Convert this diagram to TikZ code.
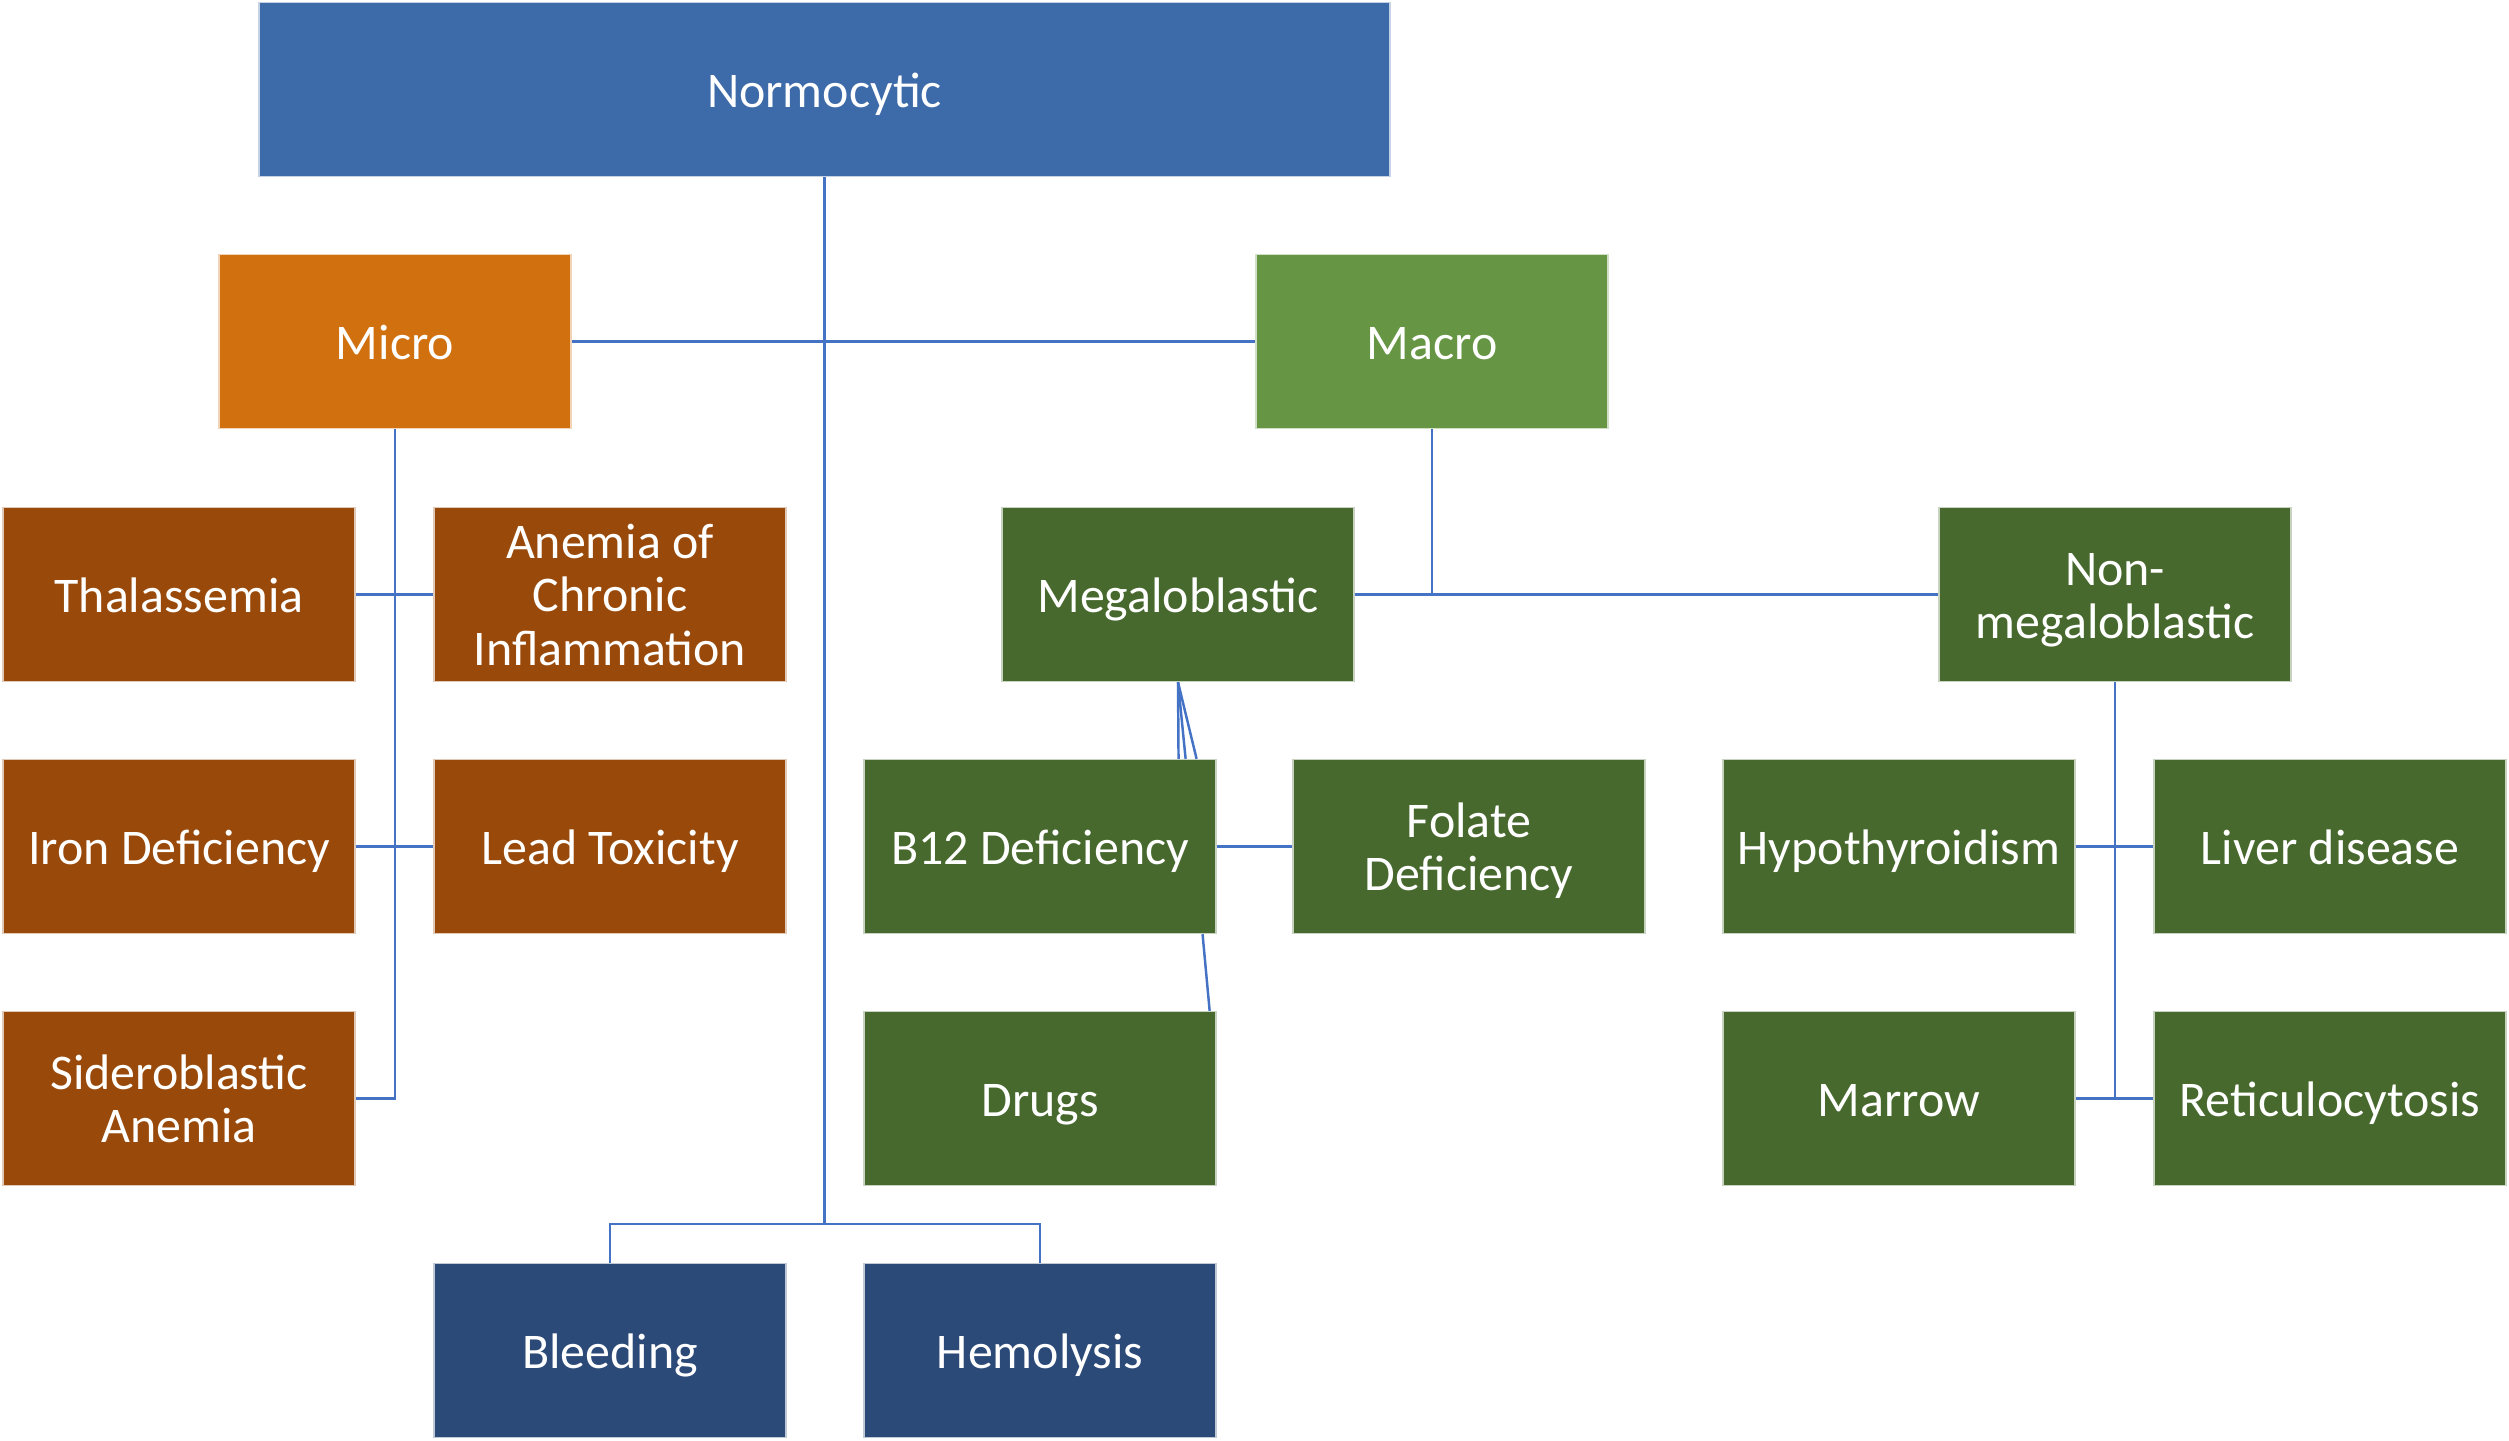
\documentclass[tikz,border=0pt]{standalone}
\usepackage{fontspec}
\setmainfont{Carlito}
\usetikzlibrary{positioning,calc}
\definecolor{normoblue}{HTML}{3D6AA8}
\definecolor{microorange}{HTML}{D1700F}
\definecolor{macrogreen}{HTML}{669544}
\definecolor{microbrown}{HTML}{994A0B}
\definecolor{macrodark}{HTML}{48692E}
\definecolor{lossblue}{HTML}{2C4A77}
\definecolor{linkblue}{HTML}{4472C4}

\begin{document}
\begin{tikzpicture}[
  box/.style={rectangle, fill=#1, draw=white!70!#1, line width=0.4pt, text=white, minimum width=3.52cm, minimum height=1.74cm,
    inner sep=0pt, align=center, font=\fontsize{14.2}{15.2}\selectfont, text height=13.5pt, text depth=3.5pt},
  twoline/.style={text height=28.6pt},
  threeline/.style={text height=43.8pt},
  link/.style={draw=linkblue, line width=0.7pt}
]
  \useasboundingbox (0,0) rectangle (25.09,-14.40);

  \node[box=normoblue, minimum width=11.31cm] (normo) at (8.245,-0.895) {Normocytic};
  \node[box=microorange] (micro) at (3.95,-3.415) {Micro};
  \node[box=macrogreen] (macro) at (14.32,-3.415) {Macro};

  \node[box=microbrown] (thal) at (1.79,-5.945) {Thalassemia};
  \node[box=microbrown, threeline] (chronic) at (6.10,-5.945) {Anemia of\\Chronic\\Inflammation};
  \node[box=microbrown] (iron) at (1.79,-8.465) {Iron Deficiency};
  \node[box=microbrown] (lead) at (6.10,-8.465) {Lead Toxicity};
  \node[box=microbrown, twoline] (sidero) at (1.79,-10.985) {Sideroblastic\\Anemia};

  \node[box=macrodark] (mega) at (11.78,-5.945) {Megaloblastic};
  \node[box=macrodark, twoline] (nonmega) at (21.15,-5.945) {Non-\\megaloblastic};
  \node[box=macrodark] (b12) at (10.40,-8.465) {B12 Deficiency};
  \node[box=macrodark, twoline] (folate) at (14.69,-8.465) {Folate\\Deficiency};
  \node[box=macrodark] (drugs) at (10.40,-10.985) {Drugs};
  \node[box=macrodark] (hypo) at (18.99,-8.465) {Hypothyroidism};
  \node[box=macrodark] (liver) at (23.30,-8.465) {Liver disease};
  \node[box=macrodark] (marrow) at (18.99,-10.985) {Marrow};
  \node[box=macrodark] (retic) at (23.30,-10.985) {Reticulocytosis};

  \node[box=lossblue] (bleed) at (6.10,-13.505) {Bleeding};
  \node[box=lossblue] (hemo) at (10.40,-13.505) {Hemolysis};

  \coordinate (split) at (normo.south |- 0,-12.24);
  \draw[link] (normo.south) -- (split);
  \draw[link] (split) -| (bleed.north);
  \draw[link] (split) -| (hemo.north);
  \draw[link] (micro.east) -- (macro.west);

  \draw[link] (micro.south) |- (sidero.east);
  \draw[link] (thal.east) -- (chronic.west);
  \draw[link] (iron.east) -- (lead.west);

  \draw[link] (macro.south) -- (macro.south |- mega.east);
  \draw[link] (mega.east) -- (nonmega.west);

  \draw[link] (mega.south) -- ($(b12.north west)!0.892!(b12.north east)$);
  \draw[link] (mega.south) -- ($(b12.north west)!0.912!(b12.north east)$);
  \draw[link] (mega.south) -- ($(b12.north west)!0.943!(b12.north east)$);
  \draw[link] (b12.east) -- (folate.west);
  \draw[link] ($(b12.south west)!0.96!(b12.south east)$) -- ($(drugs.north west)!0.98!(drugs.north east)$);

  \draw[link] (nonmega.south) |- (marrow.east);
  \draw[link] (nonmega.south) |- (retic.west);
  \draw[link] (hypo.east) -- (liver.west);
\end{tikzpicture}
\end{document}
